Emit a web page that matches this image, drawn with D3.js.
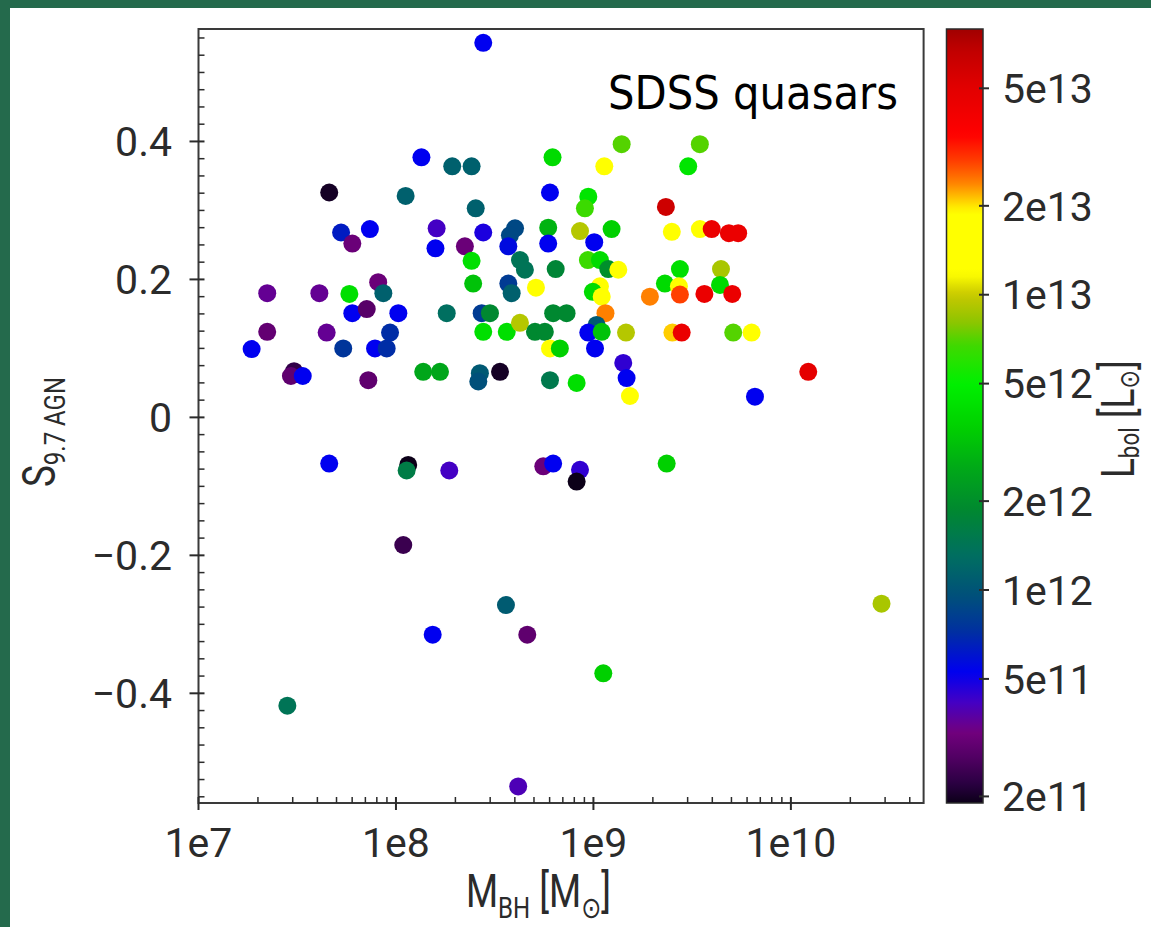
<!DOCTYPE html>
<html><head><meta charset="utf-8">
<script src="https://cdn.jsdelivr.net/npm/d3@7"></script>
<style>html,body{margin:0;padding:0;background:#fff;} svg{display:block}</style>
</head><body>
<svg id="chart" width="1151" height="927"></svg>
<script>
// Black-hole mass, log10(M_BH / M_sun)
const logMbh = [
  8.442, 8.129, 8.285, 8.383, 8.793, 7.662, 8.049, 8.780, 8.404, 7.722,
  7.868, 7.779, 8.206, 8.442, 8.603, 8.577, 8.771, 8.200, 8.349, 8.569,
  8.771, 8.383, 8.628, 8.653, 8.809, 8.391, 8.569, 8.586, 8.709, 7.348,
  7.612, 7.764, 7.910, 7.936, 7.779, 7.852, 8.012, 8.257, 8.434, 8.476,
  8.796, 8.864, 7.348, 7.649, 7.970, 8.442, 8.561, 8.628, 8.704, 8.754,
  7.269, 7.733, 7.894, 7.953, 8.780, 8.830, 7.484, 7.468, 7.528, 7.860,
  8.138, 8.223, 8.425, 8.417, 8.527, 8.780, 8.915,
  9.143, 9.539, 9.055, 9.480, 8.974, 8.957, 9.367, 9.092, 8.932, 9.004,
  9.397, 9.539, 9.599, 9.686, 9.733, 8.972, 9.033, 9.075, 9.126, 9.438,
  9.646, 9.033, 8.997, 9.042, 9.362, 9.433, 9.286, 9.438, 9.562, 9.641,
  9.703, 9.061, 9.016, 8.974, 9.042, 9.165, 9.400, 9.447, 9.708, 9.801,
  9.008, 9.151, 9.168, 9.185, 10.088, 9.818,
  7.662, 8.062, 8.054, 8.270, 8.746, 8.796, 8.932, 8.915, 8.037, 8.557,
  8.186, 8.665, 7.450, 8.619, 9.371, 10.459, 9.050
];

// Silicate strength S_9.7 of the AGN component
const s97 = [
  0.543, 0.377, 0.364, 0.364, 0.377, 0.326, 0.321, 0.326, 0.303, 0.268,
  0.273, 0.252, 0.274, 0.268, 0.274, 0.264, 0.275, 0.245, 0.248, 0.248,
  0.252, 0.227, 0.228, 0.214, 0.215, 0.194, 0.194, 0.180, 0.188, 0.180,
  0.180, 0.179, 0.196, 0.180, 0.151, 0.157, 0.151, 0.151, 0.151, 0.151,
  0.151, 0.151, 0.124, 0.123, 0.123, 0.124, 0.124, 0.137, 0.124, 0.124,
  0.099, 0.100, 0.100, 0.100, 0.100, 0.100, 0.067, 0.060, 0.060, 0.054,
  0.066, 0.066, 0.064, 0.052, 0.066, 0.054, 0.050,
  0.396, 0.396, 0.364, 0.364, 0.320, 0.303, 0.305, 0.273, 0.270, 0.254,
  0.269, 0.273, 0.273, 0.267, 0.267, 0.228, 0.228, 0.215, 0.214, 0.215,
  0.215, 0.190, 0.182, 0.175, 0.194, 0.190, 0.175, 0.178, 0.179, 0.192,
  0.179, 0.151, 0.134, 0.123, 0.124, 0.123, 0.123, 0.123, 0.123, 0.123,
  0.100, 0.079, 0.057, 0.031, 0.066, 0.030,
  -0.067, -0.069, -0.077, -0.077, -0.071, -0.067, -0.076, -0.093, -0.185, -0.272,
  -0.315, -0.315, -0.418, -0.535, -0.067, -0.270, -0.371
];

// Bolometric luminosity, log10(L_bol / L_sun)
const logLbol = [
  11.72, 11.72, 12.05, 12.05, 12.60, 11.30, 12.05, 11.72, 12.05, 11.80,
  11.72, 11.50, 11.62, 11.68, 11.95, 11.95, 12.45, 11.72, 11.50, 11.75,
  11.72, 12.62, 12.15, 12.15, 12.25, 12.50, 11.90, 12.05, 13.15, 11.55,
  11.55, 12.62, 11.50, 12.05, 11.72, 11.45, 11.72, 12.12, 11.90, 12.27,
  12.27, 12.27, 11.48, 11.55, 11.85, 12.62, 12.62, 12.97, 12.27, 12.27,
  11.72, 11.88, 11.72, 11.85, 13.15, 12.55, 11.36, 11.47, 11.72, 11.47,
  12.40, 12.40, 12.02, 11.98, 11.30, 12.18, 12.62,
  12.85, 12.85, 13.15, 12.65, 12.65, 12.82, 13.78, 12.55, 12.97, 11.72,
  13.15, 13.28, 13.65, 13.65, 13.65, 12.82, 12.60, 12.30, 13.15, 12.62,
  12.95, 13.15, 12.60, 13.15, 12.60, 13.28, 13.38, 13.45, 13.65, 12.60,
  13.65, 13.38, 12.02, 11.72, 12.50, 12.97, 13.32, 13.65, 12.85, 13.15,
  11.72, 11.65, 11.72, 13.15, 13.68, 11.72,
  11.72, 11.28, 12.20, 11.62, 11.50, 11.72, 11.65, 11.26, 11.38, 12.03,
  11.72, 11.47, 12.15, 11.60, 12.55, 12.95, 12.55
];

const xTicks = [1e7, 1e8, 1e9, 1e10];
const xTickLabels = ["1e7", "1e8", "1e9", "1e10"];
const yTicks = [-0.4, -0.2, 0, 0.2, 0.4];
const yTickLabels = ["\u22120.4", "\u22120.2", "0", "0.2", "0.4"];
const cbTicks = [2e11, 5e11, 1e12, 2e12, 5e12, 1e13, 2e13, 5e13];
const cbTickLabels = ["2e11", "5e11", "1e12", "2e12", "5e12", "1e13", "2e13", "5e13"];

// Colour-map anchors: log10(L_bol) -> colour
const cmapLog = [11.28, 11.34, 11.43, 11.52, 11.62, 11.72, 11.86, 11.98, 12.12, 12.27,
                 12.41, 12.55, 12.70, 12.83, 12.91, 13.00, 13.07, 13.28, 13.33, 13.38,
                 13.45, 13.54, 13.71, 13.83, 13.90];
const cmapColors = ["#0c0018", "#280040", "#500062", "#72007e", "#4400c4", "#0000f0", "#0030a0",
                    "#00507a", "#006f60", "#008830", "#00a818", "#00d000", "#00f000",
                    "#40d800", "#90c400", "#c8c800", "#ffff00", "#ffff00", "#ffc000",
                    "#ff8000", "#ff4000", "#ff0000", "#e00000", "#c00000", "#a00000"];

const svg = d3.select("#chart");
const W = 1151, H = 927;
const plot = {left: 198.5, right: 923.6, top: 29, bottom: 803};
const cb = {left: 946.5, right: 983, top: 29, bottom: 803};

// page frame
svg.append("rect").attr("width", W).attr("height", H).attr("fill", "#246a4c");
svg.append("rect").attr("x", 10).attr("y", 8).attr("width", W - 10).attr("height", H - 8).attr("fill", "#ffffff");

const x = d3.scaleLog().domain([1e7, 4.7e10]).range([plot.left, plot.right]);
const y = d3.scaleLinear().domain([-0.559, 0.563]).range([plot.bottom, plot.top]);
const cScale = d3.scaleLinear().domain(cmapLog).range(cmapColors).clamp(true);
const cbY = d3.scaleLog().domain([1.9e11, 7.94e13]).range([cb.bottom, cb.top]);

const tickFont = "Roboto, 'DejaVu Sans', sans-serif";
const ink = "#2b2b2b";

// scatter points
const pts = logMbh.map((m, i) => ({m: Math.pow(10, m), s: s97[i], l: logLbol[i]}));
svg.append("g").selectAll("circle").data(pts).join("circle")
  .attr("cx", d => x(d.m)).attr("cy", d => y(d.s)).attr("r", 9)
  .attr("fill", d => cScale(d.l));

// axes frame
svg.append("rect").attr("x", plot.left).attr("y", plot.top)
  .attr("width", plot.right - plot.left).attr("height", plot.bottom - plot.top)
  .attr("fill", "none").attr("stroke", "#3a3a3a").attr("stroke-width", 2);

// x axis ticks
const xMinor = [];
for (let e = 7; e <= 10; e++) for (let k = 2; k <= 9; k++) {
  const v = k * Math.pow(10, e);
  if (v < x.domain()[1]) xMinor.push(v);
}
const gx = svg.append("g");
gx.selectAll("line.minor").data(xMinor).join("line").attr("class", "minor")
  .attr("x1", d => x(d)).attr("x2", d => x(d)).attr("y1", plot.bottom).attr("y2", plot.bottom - 6)
  .attr("stroke", ink).attr("stroke-width", 1.5);
gx.selectAll("line.major").data(xTicks).join("line").attr("class", "major")
  .attr("x1", d => x(d)).attr("x2", d => x(d)).attr("y1", plot.bottom - 6).attr("y2", plot.bottom + 7)
  .attr("stroke", ink).attr("stroke-width", 2);
gx.selectAll("text").data(xTicks).join("text")
  .attr("x", d => x(d)).attr("y", 857).attr("text-anchor", "middle")
  .attr("font-family", tickFont).attr("font-size", 41).attr("fill", ink)
  .text((d, i) => xTickLabels[i]);

// y axis ticks
const yMinor = d3.range(-22, 23).map(k => k * 0.025)
  .filter(v => Math.abs(v * 5 - Math.round(v * 5)) > 1e-6 && v > y.domain()[0] && v < y.domain()[1]);
const gy = svg.append("g");
gy.selectAll("line.minor").data(yMinor).join("line").attr("class", "minor")
  .attr("x1", plot.left).attr("x2", plot.left + 6).attr("y1", d => y(d)).attr("y2", d => y(d))
  .attr("stroke", ink).attr("stroke-width", 1.5);
gy.selectAll("line.major").data(yTicks).join("line").attr("class", "major")
  .attr("x1", plot.left - 9).attr("x2", plot.left + 6).attr("y1", d => y(d)).attr("y2", d => y(d))
  .attr("stroke", ink).attr("stroke-width", 2);
gy.selectAll("text").data(yTicks).join("text")
  .attr("x", 172).attr("y", d => y(d)).attr("dy", "0.36em").attr("text-anchor", "end")
  .attr("font-family", tickFont).attr("font-size", 41).attr("fill", ink)
  .text((d, i) => yTickLabels[i]);

// title
svg.append("text").attr("x", 608).attr("y", 109)
  .attr("font-family", "'DejaVu Sans', sans-serif").attr("font-size", 47).attr("fill", "#000")
  .attr("textLength", 290).attr("lengthAdjust", "spacingAndGlyphs")
  .text("SDSS quasars");

// axis labels (sub-scripted)
function subLabel(g, parts, subSize) {
  const t = g.append("text").attr("font-family", tickFont).attr("fill", ink);
  parts.forEach(p => {
    t.append("tspan").attr("font-size", p.sub ? (subSize || 30) : 46)
      .attr("dy", p.dy || 0).text(p.t);
  });
  return t;
}
const xl = svg.append("g").attr("transform", "translate(466,907) scale(0.8,1)");
subLabel(xl, [{t: "M"}, {t: "BH", sub: true, dy: 11}, {t: " [M", dy: -11}, {t: "\u2299", sub: true, dy: 11}, {t: "]", dy: -11}]);

const yl = svg.append("g").attr("transform", "translate(55,487) rotate(-90) scale(0.8,1)");
subLabel(yl, [{t: "S"}, {t: "9.7 AGN", sub: true, dy: 10}]);

// colour bar
const defs = svg.append("defs");
const grad = defs.append("linearGradient").attr("id", "cbgrad")
  .attr("x1", 0).attr("y1", 1).attr("x2", 0).attr("y2", 0);
const lo = Math.log10(cbY.domain()[0]), hi = Math.log10(cbY.domain()[1]);
d3.range(0, 101).forEach(i => {
  const v = lo + (hi - lo) * i / 100;
  grad.append("stop").attr("offset", (i) + "%").attr("stop-color", cScale(v));
});
svg.append("rect").attr("x", cb.left).attr("y", cb.top)
  .attr("width", cb.right - cb.left).attr("height", cb.bottom - cb.top)
  .attr("fill", "url(#cbgrad)").attr("stroke", "#2b2b2b").attr("stroke-width", 1.5);
const gc = svg.append("g");
gc.selectAll("line").data(cbTicks).join("line")
  .attr("x1", cb.right - 4).attr("x2", cb.right + 6).attr("y1", d => cbY(d)).attr("y2", d => cbY(d))
  .attr("stroke", ink).attr("stroke-width", 2);
gc.selectAll("text").data(cbTicks).join("text")
  .attr("x", 1002).attr("y", d => cbY(d)).attr("dy", "0.36em")
  .attr("font-family", tickFont).attr("font-size", 41).attr("fill", ink)
  .text((d, i) => cbTickLabels[i]);

const cl = svg.append("g").attr("transform", "translate(1134,478) rotate(-90) scale(0.8,1)");
subLabel(cl, [{t: "L"}, {t: "bol", sub: true, dy: 5}, {t: " [L", dy: -5}, {t: "\u2299", sub: true, dy: 5}, {t: "]", dy: -5}], 28);
</script>
</body></html>
